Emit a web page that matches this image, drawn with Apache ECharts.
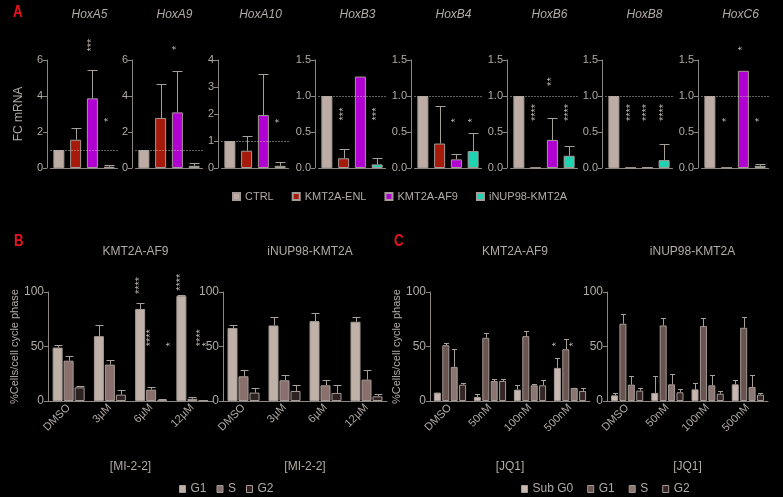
<!DOCTYPE html>
<html><head><meta charset="utf-8">
<script src="https://cdn.jsdelivr.net/npm/echarts@6/dist/echarts.min.js"></script>
<style>html,body{margin:0;background:#000}#c{width:783px;height:497px}</style>
</head><body><div id="c"></div><script>
// ---------- Panel A data ----------
const genes = ['HoxA5','HoxA9','HoxA10','HoxB3','HoxB4','HoxB6','HoxB8','HoxC6'];
const groupsA = ['CTRL','KMT2A-ENL','KMT2A-AF9','iNUP98-KMT2A'];
const meanHoxA5 = [1.0, 1.57, 3.87, 0.07];   const errHoxA5 = [0, 0.63, 1.55, 0.09];
const meanHoxA9 = [1.0, 2.78, 3.09, 0.12];   const errHoxA9 = [0, 1.87, 2.30, 0.18];
const meanHoxA10 = [1.0, 0.64, 1.96, 0.08];  const errHoxA10 = [0, 0.54, 1.54, 0.15];
const meanHoxB3 = [1.0, 0.135, 1.27, 0.05];  const errHoxB3 = [0, 0.125, 0, 0.09];
const meanHoxB4 = [1.0, 0.34, 0.12, 0.235];  const errHoxB4 = [0, 0.52, 0.08, 0.245];
const meanHoxB6 = [1.0, 0.005, 0.39, 0.17];  const errHoxB6 = [0, 0, 0.31, 0.13];
const meanHoxB8 = [1.0, 0.005, 0.012, 0.11]; const errHoxB8 = [0, 0, 0.005, 0.23];
const meanHoxC6 = [1.0, 0.005, 1.35, 0.03];  const errHoxC6 = [0, 0, 0, 0.03];
// significance: [group index, y value, text]
const starsHoxA5 = [[2, 6.83, '***'], [3, 2.67, '*']];
const starsHoxA9 = [[2, 6.68, '*']];
const starsHoxA10 = [[3, 1.75, '*']];
const starsHoxB3 = [[1, 0.75, '***'], [3, 0.75, '***']];
const starsHoxB4 = [[2, 0.66, '*'], [3, 0.66, '*']];
const starsHoxB6 = [[1, 0.77, '****'], [2, 1.2, '**'], [3, 0.77, '****']];
const starsHoxB8 = [[1, 0.77, '****'], [2, 0.77, '****'], [3, 0.77, '****']];
const starsHoxC6 = [[1, 0.67, '*'], [2, 1.66, '*'], [3, 0.67, '*']];
const yMaxA = [6, 6, 4, 1.5, 1.5, 1.5, 1.5, 1.5];
const yStepA = [2, 2, 1, 0.5, 0.5, 0.5, 0.5, 0.5];

// ---------- Panel B data (MI-2-2) ----------
const catsB = ['DMSO', '3µM', '6µM', '12µM'];
const phasesB = ['G1', 'S', 'G2'];
const bAF9_G1 = [49, 59.5, 84.4, 96.3];  const bAF9_G1err = [2, 9.8, 5.2, 0.7];
const bAF9_S  = [37, 33.4, 10.4, 2];     const bAF9_Serr  = [4, 4, 2.5, 1.7];
const bAF9_G2 = [12.5, 5.8, 1, 0.5];     const bAF9_G2err = [1.5, 4.6, 0.8, 0.3];
const bNUP_G1 = [67, 69.3, 73.3, 72.7];  const bNUP_G1err = [3, 7.4, 7.1, 4.6];
const bNUP_S  = [22.7, 19, 14.4, 19.6];  const bNUP_Serr  = [5.3, 5, 4.6, 8.9];
const bNUP_G2 = [7.7, 9.2, 7.4, 4.3];    const bNUP_G2err = [4.6, 5.2, 7.6, 1.8];
// [category, bar index, y value, text]
const starsB_AF9 = [[2, 0, 106, '****'], [2, 1, 58, '****'], [2, 2.8, 52, '*'],
                    [3, 0, 109, '****'], [3, 1.8, 58, '****'], [3, 2.3, 52, '*']];

// ---------- Panel C data (JQ1) ----------
const catsC = ['DMSO', '50nM', '100nM', '500nM'];
const phasesC = ['Sub G0', 'G1', 'S', 'G2'];
const cAF9_Sub = [7.7, 3.7, 10.4, 30.4];  const cAF9_Suberr = [0, 3, 4, 9.5];
const cAF9_G1  = [51.2, 58, 59.5, 47.5];  const cAF9_G1err  = [1.6, 4, 4.9, 9.2];
const cAF9_S   = [31.3, 18.4, 14.4, 12];  const cAF9_Serr   = [16.2, 1.6, 1.6, 0.3];
const cAF9_G2  = [15, 18.4, 14.4, 9.2];   const cAF9_G2err  = [1.9, 1.6, 4.6, 2.5];
const cNUP_Sub = [5.2, 7.4, 10.7, 15.3];  const cNUP_Suberr = [2.5, 15.6, 6.2, 4.3];
const cNUP_G1  = [70.9, 69.3, 68.7, 67.2];const cNUP_G1err  = [8.5, 7.1, 7.1, 9.5];
const cNUP_S   = [15, 15.3, 14.4, 12.9];  const cNUP_Serr   = [8.3, 9.5, 9.5, 11.3];
const cNUP_G2  = [9.5, 8, 6.7, 5.8];      const cNUP_G2err  = [2.8, 3.3, 2.2, 1.9];
const starsC_AF9 = [[3, 0, 52, '*'], [3, 2, 52, '*']];

// ---------- styling / layout ----------
const FONT = "'Liberation Sans', Arial, sans-serif";
const TXT = '#b2aaa6', AX = '#8e8682', ERR = '#a89e9a', BORDER = '#a59a96', STAR = '#bdb5b1';
const colorsA = ['#bcaca4', '#a51a0a', '#b000d2', '#1fd2b0'];
const colorsB = ['#bfb0a8', '#8a706c', '#2e2220'];
const colorsC = ['#c8b8b0', '#6a5450', '#8c7672', '#332523'];
const axisXA = [47, 132, 218, 315, 411, 507, 602, 698];

const grid = [], xAxis = [], yAxis = [], series = [];

function errRender(step, n, cap) {
  return function (params, api) {
    const c = api.value(0), t = api.value(1), v = api.value(2), b = api.value(3);
    const p0 = api.coord([c, v]), p1 = api.coord([c, t]);
    const x = Math.round(p0[0] + (b - (n - 1) / 2) * step) + 0.5;
    const y1 = Math.round(p1[1]) + 0.5;
    return { type: 'group', children: [
      { type: 'line', shape: { x1: x, y1: p0[1], x2: x, y2: y1 }, style: { stroke: ERR, lineWidth: 1 } },
      { type: 'line', shape: { x1: x - cap, y1: y1, x2: x + cap, y2: y1 }, style: { stroke: ERR, lineWidth: 1 } }
    ]};
  };
}
function starRender(step, n, texts) {
  return function (params, api) {
    const c = api.value(0), y = api.value(1), b = api.value(2);
    const p = api.coord([c, y]);
    return { type: 'text', x: p[0] + (b - (n - 1) / 2) * step, y: p[1], rotation: Math.PI / 2,
      style: { text: texts[params.dataIndex], fill: STAR, fontSize: 11, fontFamily: FONT, align: 'center', verticalAlign: 'middle' } };
  };
}

// ---------- Panel A ----------
const meansA = [meanHoxA5, meanHoxA9, meanHoxA10, meanHoxB3, meanHoxB4, meanHoxB6, meanHoxB8, meanHoxC6];
const errsA = [errHoxA5, errHoxA9, errHoxA10, errHoxB3, errHoxB4, errHoxB6, errHoxB8, errHoxC6];
const starsA = [starsHoxA5, starsHoxA9, starsHoxA10, starsHoxB3, starsHoxB4, starsHoxB6, starsHoxB8, starsHoxC6];
const title = [];
genes.forEach((g, k) => {
  const left = axisXA[k] + 3.5;
  grid.push({ left: left, top: 60, width: 67, height: 108 });
  title.push({ text: g, left: left + 34, top: 4, textAlign: 'center',
    textStyle: { color: TXT, fontSize: 12, fontStyle: 'italic', fontWeight: 'normal', fontFamily: FONT } });
  xAxis.push({ type: 'category', gridIndex: k, data: groupsA,
    axisLine: { lineStyle: { color: AX } }, axisTick: { alignWithLabel: true, length: 3, lineStyle: { color: AX } },
    axisLabel: { show: false } });
  yAxis.push({ type: 'value', gridIndex: k, min: 0, max: yMaxA[k], interval: yStepA[k], offset: 3.5,
    splitLine: { show: false }, axisLine: { show: true, lineStyle: { color: AX } },
    axisTick: { show: true, length: 4, lineStyle: { color: AX } },
    axisLabel: { color: TXT, fontSize: 11, margin: 4, fontFamily: FONT,
      formatter: v => yStepA[k] < 1 ? v.toFixed(1) : String(v) },
    name: k === 0 ? 'FC mRNA' : '', nameLocation: 'middle', nameGap: 22,
    nameTextStyle: { color: TXT, fontSize: 12, fontFamily: FONT } });
  groupsA.forEach((grp, i) => {
    series.push({ type: 'bar', name: grp, xAxisIndex: k, yAxisIndex: k, stack: 'A' + k, barWidth: 11, z: 2,
      data: groupsA.map((_, j) => j === i ? meansA[k][i] : '-'),
      itemStyle: { color: colorsA[i], borderColor: BORDER, borderWidth: 1 } });
  });
  const ed = [];
  meansA[k].forEach((v, i) => { if (errsA[k][i] > 0) ed.push([i, v + errsA[k][i], v, 0]); });
  series.push({ type: 'custom', xAxisIndex: k, yAxisIndex: k, encode: { x: 0, y: 1 }, data: ed,
    renderItem: errRender(0, 1, 5), z: 1,
    markLine: { silent: true, symbol: 'none', label: { show: false },
      lineStyle: { type: [1, 2], color: '#c8c0bc', width: 1 }, data: [{ yAxis: 1 }] } });
  series.push({ type: 'custom', xAxisIndex: k, yAxisIndex: k, encode: { x: 0, y: 1 },
    data: starsA[k].map(s => [s[0], s[1], 0]), renderItem: starRender(0, 1, starsA[k].map(s => s[2])), z: 3 });
});

// ---------- Panels B and C ----------
function addPanel(idx, gLeft, gWidth, cats, phases, means, errs, colors, barW, barGapPx, stars, ttl, showYName, xName) {
  grid.push({ left: gLeft, top: 292, width: gWidth, height: 109 });
  title.push({ text: ttl, left: gLeft + gWidth / 2, top: 241, textAlign: 'center',
    textStyle: { color: TXT, fontSize: 12, fontWeight: 'normal', fontFamily: FONT } });
  xAxis.push({ type: 'category', gridIndex: idx, data: cats,
    axisLine: { lineStyle: { color: AX } }, axisTick: { alignWithLabel: true, length: 3, lineStyle: { color: AX } },
    axisLabel: { color: TXT, fontSize: 11, rotate: 45, margin: 5, interval: 0, fontFamily: FONT },
    name: xName, nameLocation: 'middle', nameGap: 60,
    nameTextStyle: { color: TXT, fontSize: 12, fontFamily: FONT } });
  yAxis.push({ type: 'value', gridIndex: idx, min: 0, max: 100, interval: 50,
    splitLine: { show: false }, axisLine: { show: true, lineStyle: { color: AX } },
    axisTick: { show: true, length: 4, lineStyle: { color: AX } },
    axisLabel: { color: TXT, fontSize: 12, margin: 4, fontFamily: FONT },
    name: showYName ? '%Cells/cell cycle phase' : '', nameLocation: 'middle', nameGap: 24,
    nameTextStyle: { color: TXT, fontSize: 11, fontFamily: FONT } });
  const n = phases.length, step = barW + barGapPx;
  const ed = [];
  phases.forEach((ph, i) => {
    series.push({ type: 'bar', name: ph, xAxisIndex: idx, yAxisIndex: idx, barWidth: barW, z: 2,
      barGap: (barGapPx / barW * 100) + '%', data: means[i],
      itemStyle: { color: colors[i], borderColor: BORDER, borderWidth: 1 } });
    means[i].forEach((v, c) => { if (errs[i][c] > 0) ed.push([c, v + errs[i][c], v, i]); });
  });
  series.push({ type: 'custom', xAxisIndex: idx, yAxisIndex: idx, encode: { x: 0, y: 1 }, data: ed,
    renderItem: errRender(step, n, barW / 2 - 1), z: 1 });
  if (stars.length) series.push({ type: 'custom', xAxisIndex: idx, yAxisIndex: idx, encode: { x: 0, y: 1 },
    data: stars.map(s => [s[0], s[2], s[1]]), renderItem: starRender(step, n, stars.map(s => s[3])), z: 3 });
}
addPanel(8, 48, 165, catsB, phasesB, [bAF9_G1, bAF9_S, bAF9_G2], [bAF9_G1err, bAF9_Serr, bAF9_G2err],
  colorsB, 10, 1, starsB_AF9, 'KMT2A-AF9', true, '[MI-2-2]');
addPanel(9, 223, 164, catsB, phasesB, [bNUP_G1, bNUP_S, bNUP_G2], [bNUP_G1err, bNUP_Serr, bNUP_G2err],
  colorsB, 10, 1, [], 'iNUP98-KMT2A', false, '[MI-2-2]');
addPanel(10, 430, 160, catsC, phasesC, [cAF9_Sub, cAF9_G1, cAF9_S, cAF9_G2],
  [cAF9_Suberr, cAF9_G1err, cAF9_Serr, cAF9_G2err], colorsC, 7, 1.4, starsC_AF9, 'KMT2A-AF9', true, '[JQ1]');
addPanel(11, 607, 161, catsC, phasesC, [cNUP_Sub, cNUP_G1, cNUP_S, cNUP_G2],
  [cNUP_Suberr, cNUP_G1err, cNUP_Serr, cNUP_G2err], colorsC, 7, 1.4, [], 'iNUP98-KMT2A', false, '[JQ1]');

const legend = [
  { data: groupsA, left: 227, top: 186, icon: 'rect', itemWidth: 7, itemHeight: 7, itemGap: 18,
    textStyle: { color: TXT, fontSize: 11, fontFamily: FONT }, selectedMode: false },
  { data: phasesB.map((p, i) => ({ name: p, itemStyle: { color: colorsB[i], borderColor: BORDER, borderWidth: 1 } })),
    left: 174, top: 478, icon: 'rect', itemWidth: 6, itemHeight: 7, itemGap: 10,
    textStyle: { color: TXT, fontSize: 12, fontFamily: FONT }, selectedMode: false },
  { data: phasesC.map((p, i) => ({ name: p, itemStyle: { color: colorsC[i], borderColor: BORDER, borderWidth: 1 } })),
    left: 516, top: 478, icon: 'rect', itemWidth: 6, itemHeight: 7, itemGap: 14,
    textStyle: { color: TXT, fontSize: 12, fontFamily: FONT }, selectedMode: false }
];

const letter = (t, x, y) => ({ type: 'text', x: x, y: y, scaleX: 0.78,
  style: { text: t, fill: '#e8141c', font: "bold 17px 'Liberation Sans', Arial, sans-serif" } });

const chart = echarts.init(document.getElementById('c'));
chart.setOption({ backgroundColor: '#000', animation: false, textStyle: { fontFamily: FONT },
  title, legend, grid, xAxis, yAxis, series,
  graphic: [letter('A', 13, 4), letter('B', 14, 233), letter('C', 394, 233)] });
</script></body></html>
